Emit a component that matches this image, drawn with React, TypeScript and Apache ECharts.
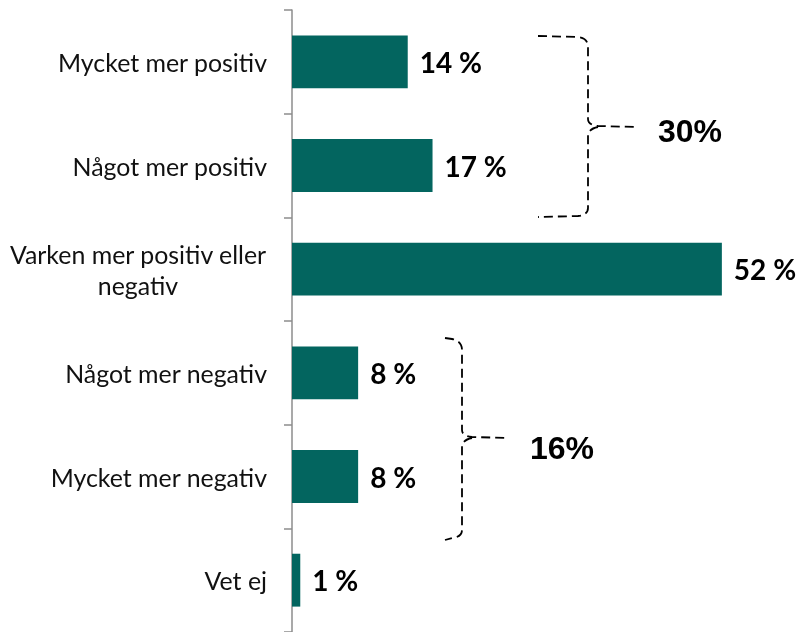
import React, { useEffect, useRef } from "react";
import * as echarts from "echarts";

const categories = [
  "Mycket mer positiv",
  "Något mer positiv",
  "Varken mer positiv eller\nnegativ",
  "Något mer negativ",
  "Mycket mer negativ",
  "Vet ej",
];
const values = [14, 17, 52, 8, 8, 1];
const groupLabels = ["30%", "16%"];

const brace1 =
  "M538,36 L578,37 Q588,38 588,47 L588,119 Q588,125 598,126 L637,127 M598,127 Q588,129 588,136 L588,208 Q588,215 578,216 L538,217";
const brace2 =
  "M445,338 L452,339 Q462,341 462,350 L462,430 Q462,436 472,437 L508,438 M472,438 Q462,440 462,447 L462,530 Q462,537 452,538 L445,540";

echarts.graphic.registerShape("brace1", echarts.graphic.extendPath(brace1, {}));
echarts.graphic.registerShape("brace2", echarts.graphic.extendPath(brace2, {}));

export default function App() {
  const ref = useRef<HTMLDivElement>(null);
  useEffect(() => {
    if (!ref.current) return;
    const chart = echarts.init(ref.current, null, { renderer: "svg" });
    const braceStyle = {
      stroke: "#000",
      fill: "none",
      lineWidth: 1.8,
      lineDash: [9, 5],
    };
    const groupText = {
      fontSize: 32,
      fontWeight: "bold",
      fontFamily: "Liberation Sans",
      fill: "#000",
      align: "left",
      verticalAlign: "middle",
    };
    const labelFont = {
      fontSize: 24.9,
      fontFamily: "Lato",
      color: "#111",
      lineHeight: 31,
    };
    chart.setOption({
      animation: false,
      grid: { left: 292, top: 10, bottom: 0, right: 17, containLabel: false },
      xAxis: { type: "value", min: 0, max: 60, show: false },
      yAxis: {
        type: "category",
        inverse: true,
        data: categories,
        axisLine: { show: true, lineStyle: { color: "#8c8c8c", width: 1.5 } },
        axisTick: { show: true, length: 8, lineStyle: { color: "#8c8c8c", width: 1.5 } },
        axisLabel: {
          margin: 25,
          align: "right",
          formatter: (v: string) =>
            v.indexOf("\n") >= 0
              ? v
                  .split("\n")
                  .map((s) => `{w|${s}}`)
                  .join("\n")
              : `{a|${v}}`,
          rich: {
            a: { ...labelFont },
            w: { ...labelFont, width: 258, align: "center" },
          },
        },
      },
      series: [
        {
          type: "bar",
          data: values,
          barWidth: "51%",
          itemStyle: { color: "#03655F" },
          label: {
            show: true,
            position: "right",
            distance: 12,
            formatter: "{c} %",
            fontSize: 28,
            fontWeight: "bold",
            fontFamily: "Lato",
            color: "#000",
          },
        },
      ],
      graphic: [
        { type: "brace1", x: 0, y: 0, style: braceStyle },
        { type: "brace2", x: 0, y: 0, style: braceStyle },
        { type: "text", x: 658, y: 131, style: { ...groupText, text: groupLabels[0] } },
        { type: "text", x: 530, y: 448, style: { ...groupText, text: groupLabels[1] } },
      ],
    });
    return () => chart.dispose();
  }, []);
  return (
    <div
      ref={ref}
      style={{ position: "fixed", left: 0, top: 0, width: 805, height: 632 }}
    />
  );
}
